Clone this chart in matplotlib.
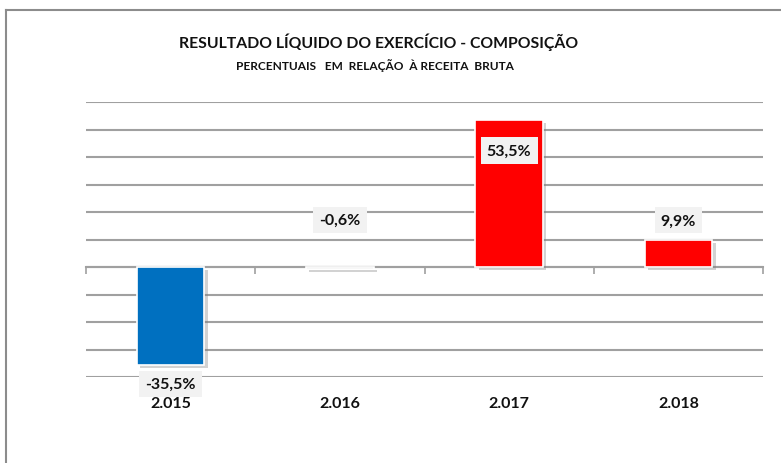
import matplotlib
matplotlib.use("Agg")
import matplotlib.pyplot as plt
import matplotlib.patheffects as pe
from matplotlib.lines import Line2D

plt.rcParams['font.family'] = ['Lato', 'DejaVu Sans']

anos = ['2.015', '2.016', '2.017', '2.018']
resultado = [-35.5, -0.6, 53.5, 9.9]
cores = ['#0070c0', '#d0d0d0', '#ff0000', '#ff0000']
rotulos = ['-35,5%', '-0,6%', '53,5%', '9,9%']
# deslocamento vertical (pt) de cada rótulo em relação ao topo/base da barra
desloc = [-14, 35, -22, 14]

W, H = 781, 464
fig = plt.figure(figsize=(W / 100, H / 100), dpi=100)
ax = fig.add_axes([86 / W, 1 - 378 / H, (763 - 86) / W, (378 - 103) / H])

x = range(len(anos))
barras = ax.bar(x, resultado, width=0.4, color=cores, edgecolor='white',
                linewidth=1.2, zorder=3)
for b in barras:
    b.set_path_effects([pe.SimplePatchShadow(offset=(2.5, -2.5), shadow_rgbFace='#7f7f7f',
                                             alpha=0.35), pe.Normal()])

for i, (v, txt, d) in enumerate(zip(resultado, rotulos, desloc)):
    ax.annotate(txt, (i, v), xytext=(0, d), textcoords='offset points',
                ha='center', va='center', fontsize=11.5, fontweight='bold',
                color='#111111', zorder=5, annotation_clip=False,
                bbox=dict(boxstyle='square,pad=0.38', fc='#f2f2f2', ec='none'))

ax.set_xlim(-0.5, len(anos) - 0.5)
ax.set_ylim(-40, 60)
ax.set_yticks(range(-40, 61, 10))
ax.yaxis.grid(True, color='#a0a0a0', linewidth=1.5, zorder=0)
ax.tick_params(axis='y', length=0, labelleft=False)

# eixo das categorias na linha do zero, com marcas entre as categorias
for s in ['top', 'right', 'left']:
    ax.spines[s].set_visible(False)
ax.spines['bottom'].set_position(('data', 0))
ax.spines['bottom'].set_color('#a0a0a0')
ax.spines['bottom'].set_linewidth(1.5)
ax.set_xticks([i - 0.5 for i in range(len(anos) + 1)])
ax.tick_params(axis='x', length=5, width=1.2, color='#a0a0a0', direction='out',
               labelbottom=False)
ax.set_axisbelow(True)

# nomes das categorias por cima dos rótulos de valor
for i, a in enumerate(anos):
    ax.annotate(a, (i, -40), xytext=(0, -19), textcoords='offset points',
                ha='center', va='center', fontsize=11.5, fontweight='bold',
                color='#111111', zorder=6, annotation_clip=False)

fig.text(379 / W, 1 - 42 / H, 'RESULTADO LÍQUIDO DO EXERCÍCIO - COMPOSIÇÃO',
         ha='center', va='center', fontsize=11.3, fontweight='bold', color='#111111')
fig.text(375 / W, 1 - 66 / H, 'PERCENTUAIS   EM  RELAÇÃO  À RECEITA  BRUTA',
         ha='center', va='center', fontsize=8.6, fontweight='bold', color='#111111')

# moldura do gráfico
fig.add_artist(Line2D([6 / W, 6 / W], [0, 1 - 11 / H], color='#8c8c8c', linewidth=1.5))
fig.add_artist(Line2D([6 / W, 1], [1 - 11 / H, 1 - 11 / H], color='#8c8c8c', linewidth=1.5))

fig.savefig('out.png', dpi=100, facecolor='white')
